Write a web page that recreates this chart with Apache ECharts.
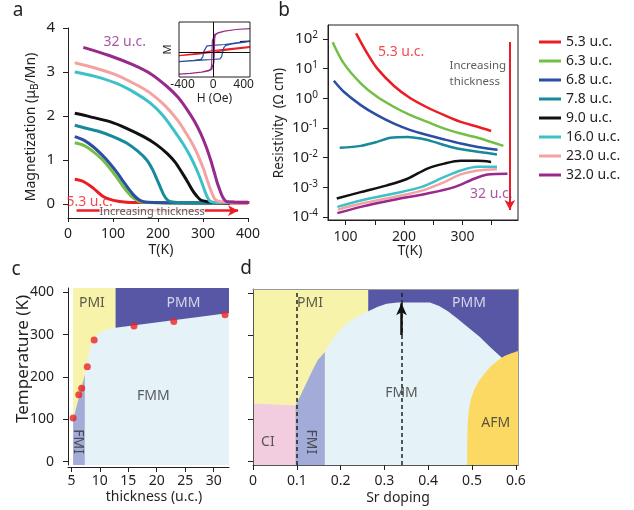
<!DOCTYPE html>
<html>
<head>
<meta charset="utf-8">
<script src="https://cdn.jsdelivr.net/npm/echarts@6/dist/echarts.min.js"></script>
<style>html,body{margin:0;padding:0;background:#fff}#main{width:634px;height:510px}</style>
</head>
<body>
<div id="main"></div>
<script>
var FONT = '"Noto Sans", "DejaVu Sans", sans-serif';
var INK = '#231f20';

// film thicknesses and their line colours
var thicknessNames = ['5.3 u.c.', '6.3 u.c.', '6.8 u.c.', '7.8 u.c.', '9.0 u.c.', '16.0 u.c.', '23.0 u.c.', '32.0 u.c.'];
var lineColors = ['#ec1c24', '#72bf44', '#2b4ea2', '#168a9a', '#111111', '#3cc1c8', '#f4a3a3', '#972a8a'];

// panel a : magnetization vs T  [T (K), M (muB/Mn)]
var mag53 = [[15,0.56],[34,0.51],[56,0.36],[78,0.17],[101,0.08],[130,0.04],[200,0.03],[300,0.02],[400,0.02]];
var mag63 = [[15,1.39],[35,1.33],[56,1.19],[75,1.02],[93,0.81],[110,0.58],[123,0.39],[135,0.24],[147,0.12],[160,0.05],[180,0.03],[250,0.02],[330,0.02]];
var mag68 = [[15,1.53],[35,1.45],[56,1.3],[75,1.12],[93,0.92],[110,0.7],[123,0.51],[135,0.34],[146,0.2],[157,0.1],[168,0.05],[190,0.03],[330,0.02]];
var mag78 = [[15,1.79],[40,1.72],[71,1.64],[100,1.53],[131,1.38],[155,1.2],[175,1.0],[188,0.78],[198,0.55],[206,0.36],[213,0.2],[220,0.1],[228,0.05],[250,0.03],[360,0.02]];
var mag90 = [[15,2.06],[50,1.98],[93,1.87],[130,1.72],[168,1.53],[195,1.36],[220,1.15],[238,0.95],[254,0.7],[266,0.5],[276,0.32],[286,0.18],[295,0.09],[310,0.05],[325,0.03],[360,0.02]];
var mag160 = [[15,3.0],[60,2.9],[108,2.74],[150,2.52],[183,2.29],[210,2.02],[235,1.68],[255,1.38],[272,1.08],[285,0.8],[295,0.55],[301,0.38],[306,0.24],[311,0.13],[317,0.05],[330,0.03],[400,0.03]];
var mag230 = [[15,3.21],[60,3.09],[108,2.93],[150,2.72],[183,2.52],[215,2.24],[243,1.91],[263,1.6],[280,1.3],[292,1.03],[302,0.77],[310,0.52],[317,0.32],[323,0.17],[328,0.09],[340,0.05],[400,0.05]];
var mag320 = [[34,3.56],[90,3.38],[145,3.16],[185,2.95],[220,2.67],[245,2.42],[265,2.14],[281,1.88],[295,1.6],[307,1.3],[317,1.0],[325,0.72],[332,0.47],[338,0.3],[343,0.17],[348,0.09],[354,0.05],[370,0.04],[403,0.03]];
var magCurves = [mag53, mag63, mag68, mag78, mag90, mag160, mag230, mag320];

// inset : hysteresis loops  [H (Oe), M (normalised)]
var loop32 = [[483,1.04],[300,1.0],[150,0.93],[60,0.85],[20,0.78],[0,0.72],[-10,0.5],[-15,0],[-20,-0.6],[-30,-0.74],[-60,-0.8],[-150,-0.87],[-300,-0.93],[-447,-0.96],[-300,-0.93],[-150,-0.88],[-60,-0.82],[-20,-0.76],[0,-0.7],[10,-0.45],[15,0],[20,0.6],[30,0.76],[60,0.84],[150,0.93],[300,1.0],[483,1.04]];
var loop68 = [[483,0.48],[300,0.41],[150,0.34],[0,0.3],[-80,0.28],[-105,0.2],[-120,0.05],[-135,-0.2],[-160,-0.31],[-250,-0.36],[-447,-0.41],[-250,-0.37],[-100,-0.34],[0,-0.32],[90,-0.29],[110,-0.2],[125,0],[140,0.2],[165,0.3],[250,0.37],[483,0.48]];
var loop53 = [[483,0.25],[200,0.15],[0,0.07],[-200,-0.05],[-447,-0.15],[-200,-0.09],[0,0.0],[200,0.1],[483,0.21]];
var loop90 = [[350,0.47],[483,0.49]];
var insetTicksX = [-400, 0, 400];

// panel b : resistivity vs T  [T (K), rho (Ohm cm)]
var rho53 = [[118,155],[137,33],[154,10.2],[183,2.6],[211,1.0],[240,0.49],[269,0.27],[297,0.16],[326,0.11],[349,0.079]];
var rho63 = [[78,78],[97,15],[126,3.2],[154,1.12],[183,0.51],[211,0.27],[240,0.16],[269,0.095],[297,0.065],[326,0.047],[370,0.025]];
var rho68 = [[80,3.9],[97,1.66],[126,0.59],[154,0.27],[183,0.14],[211,0.085],[240,0.058],[269,0.041],[297,0.030],[326,0.023],[360,0.0186]];
var rho78 = [[90,0.0214],[126,0.025],[154,0.034],[177,0.047],[206,0.050],[229,0.044],[251,0.034],[280,0.023],[309,0.0178],[359,0.0129]];
var rho90 = [[85,4.2e-4],[126,6.9e-4],[171,1.17e-3],[206,1.95e-3],[240,4.3e-3],[269,6.3e-3],[297,7.8e-3],[326,7.8e-3],[349,7.2e-3]];
var rho160 = [[86,2.2e-4],[126,3.6e-4],[183,6.2e-4],[229,1.02e-3],[269,2.24e-3],[297,3.7e-3],[326,4.9e-3],[359,4.9e-3]];
var rho230 = [[87,1.78e-4],[126,2.8e-4],[183,4.7e-4],[229,7.6e-4],[269,1.51e-3],[297,2.75e-3],[326,3.7e-3],[359,4.1e-3]];
var rho320 = [[86,1.35e-4],[126,2.2e-4],[183,3.8e-4],[240,6.2e-4],[286,1.02e-3],[320,1.95e-3],[343,2.7e-3],[377,2.9e-3]];
var rhoCurves = [rho53, rho63, rho68, rho78, rho90, rho160, rho230, rho320];

// tick values
var aTicksX = [0, 100, 200, 300, 400];
var aTicksY = [0, 1, 2, 3, 4];
var bTicksX = [100, 150, 200, 250, 300, 350];
var bLabelsX = [100, 200, 300];
var bDecades = [-4, -3, -2, -1, 0, 1, 2];
var cTicksX = [5, 10, 15, 20, 25, 30];
var tempTicks = [0, 100, 200, 300, 400];
var dTicksX = [0, 0.1, 0.2, 0.3, 0.4, 0.5, 0.6];

// panel c : Tc vs thickness, and phase boundaries [thickness, T]
var tcThickness = [5.3, 6.3, 6.8, 7.8, 9.0, 16, 23, 32];
var tcValues = [103, 158, 173, 224, 287, 320, 331, 347];
var cPmiTop = [[5.3,410],[12.76,410]];
var cPmmTop = [[12.76,410],[32.7,410]];
var cFmmTop = [[7.35,205],[7.6,226],[7.93,247],[8.2,263],[8.5,277],[8.9,289],[9.4,298],[9.9,303],[10.5,308],[11.5,313],[12.76,316],[32.7,351]];
var cFmiTop = [[5.3,99],[7.35,205]];

// panel d : phase diagram vs Sr doping [x, T]
var dPmiTop = [[0,409],[0.263,409]];
var dPmmTop = [[0.263,409],[0.605,409]];
var dCiTop = [[0,138],[0.097,133]];
var dFmiTop = [[0.097,133],[0.11,160],[0.122,186],[0.135,215],[0.148,241],[0.164,260]];
var dFmmTop = [[0.164,260],[0.172,275],[0.183,292],[0.197,310],[0.213,326],[0.235,342],[0.263,356],[0.285,367],[0.305,374],[0.33,377],[0.37,377],[0.404,377],[0.425,369],[0.445,356],[0.465,340],[0.49,319],[0.518,295],[0.543,270],[0.567,247],[0.605,212]];
var dAfmTop = [[0.489,-8],[0.489,40],[0.490,90],[0.493,125],[0.498,150],[0.505,170],[0.515,190],[0.528,208],[0.543,226],[0.56,241],[0.575,251],[0.59,257],[0.605,262]];
var dDashX = [0.097, 0.339];
var dArrow = [[0.339,300],[0.339,375]];

var dom = document.getElementById('main');
var myChart = echarts.init(dom);

function ax(grid, min, max, extra) {
    var base = {
        gridIndex: grid, type: 'value', min: min, max: max,
        axisLine: {onZero: false, lineStyle: {color: INK, width: 1}},
        axisTick: {length: 5, lineStyle: {color: INK}},
        axisLabel: {fontSize: 14, color: INK, fontFamily: FONT},
        splitLine: {show: false}
    };
    for (var k in extra) {
        if (typeof extra[k] === 'object' && !Array.isArray(extra[k]) && base[k]) {
            base[k] = Object.assign({}, base[k], extra[k]);
        } else {
            base[k] = extra[k];
        }
    }
    return base;
}

function area(gi, data, color) {
    return {type: 'line', xAxisIndex: gi, yAxisIndex: gi, data: data, smooth: false,
        symbol: 'none', silent: true, lineStyle: {width: 0, opacity: 0},
        areaStyle: {color: color, opacity: 1, origin: 'start'}, z: 1};
}

function notes(gi, items, size) {
    return {type: 'scatter', xAxisIndex: gi, yAxisIndex: gi, symbolSize: 1, silent: true,
        itemStyle: {color: 'rgba(0,0,0,0)'}, data: items, z: 20,
        label: {show: true, position: 'inside', formatter: '{b}', fontSize: size, fontFamily: FONT, color: '#333'}};
}

var series = [];
thicknessNames.forEach(function (n, i) {
    series.push({type: 'line', name: n, xAxisIndex: 0, yAxisIndex: 0, data: magCurves[i], smooth: 0.3,
        showSymbol: false, lineStyle: {width: 3, color: lineColors[i]}, itemStyle: {color: lineColors[i]}, z: 3});
});
series.push(notes(0, [
    {name: '32 u.c.', value: [126, 3.69], label: {color: '#972a8a'}},
    {name: '5.3 u.c.', value: [48, 0.05], label: {color: '#ec1c24'}},
    {name: 'Increasing thickness', value: [187, -0.19], label: {fontSize: 11, color: '#333', backgroundColor: '#fff', lineHeight: 11}}
], 14));
series[series.length - 1].markLine = {
    silent: true, symbol: ['none', 'arrow'], symbolSize: [8, 10], label: {show: false},
    lineStyle: {color: '#ec1c24', width: 2.5, type: 'solid'},
    data: [[{coord: [19, -0.154]}, {coord: [378, -0.154]}]]
};

// inset loops
var loopSets = [[loop53, '#ec1c24'], [loop90, '#111'], [loop68, '#2b4ea2'], [loop32, '#972a8a']];
loopSets.forEach(function (l, i) {
    series.push({type: 'line', name: 'loop' + i, xAxisIndex: 1, yAxisIndex: 1, data: l[0], symbol: 'none',
        lineStyle: {width: 1.2, color: l[1]}, z: 4,
        markLine: i === 0 ? {silent: true, symbol: 'none', label: {show: false},
            lineStyle: {color: '#111', width: 1, type: 'solid'}, data: [{yAxis: 0}, {xAxis: 0}]} : undefined});
});

// panel b
thicknessNames.forEach(function (n, i) {
    series.push({type: 'line', name: n, xAxisIndex: 2, yAxisIndex: 2, smooth: 0.3, showSymbol: false,
        data: rhoCurves[i].map(function (p) { return [p[0], Math.log10(p[1])]; }),
        lineStyle: {width: 2.5, color: lineColors[i]}, itemStyle: {color: lineColors[i]}, z: 3});
});
series.push(notes(2, [
    {name: '5.3 u.c.', value: [195, 1.57], label: {color: '#ec1c24'}},
    {name: 'Increasing\nthickness', value: [277, 0.83], label: {position: 'right', distance: 0, fontSize: 11.5, lineHeight: 16, color: '#333'}},
    {name: '32 u.c.', value: [312, -3.23], label: {position: 'right', distance: 0, color: '#972a8a'}}
], 14));
series[series.length - 1].markLine = {
    silent: true, symbol: ['none', 'arrow'], symbolSize: [8, 10], label: {show: false},
    lineStyle: {color: '#ec1c24', width: 2, type: 'solid'},
    data: [[{coord: [381, 1.90]}, {coord: [381, -3.76]}]]
};

// panel c
series.push(area(3, cPmiTop, '#f7f3ab'));
series.push(area(3, cPmmTop, '#5757a5'));
series.push(area(3, cFmmTop, '#e5f3f8'));
series.push(area(3, cFmiTop, '#a3acd8'));
series.push({type: 'scatter', xAxisIndex: 3, yAxisIndex: 3, symbolSize: 7, itemStyle: {color: '#ee2222'}, z: 5,
    data: tcThickness.map(function (t, i) { return [t, tcValues[i]]; })});
series.push(notes(3, [
    {name: 'PMI', value: [8.6, 375]},
    {name: 'PMM', value: [24.7, 375], label: {color: '#f2f2fa'}},
    {name: 'FMM', value: [19.4, 154]},
    {name: 'FMI', value: [6.2, 47], label: {rotate: -90}}
], 14));

// panel d
series.push(area(4, dPmiTop, '#f7f3ab'));
series.push(area(4, dPmmTop, '#5757a5'));
series.push(area(4, dCiTop, '#f2cde0'));
series.push(area(4, dFmmTop, '#e5f3f8'));
series.push(area(4, dFmiTop, '#a3acd8'));
series.push(area(4, dAfmTop, '#fbd962'));
series.push(notes(4, [
    {name: 'PMI', value: [0.13, 375]},
    {name: 'PMM', value: [0.493, 375], label: {color: '#f2f2fa'}},
    {name: 'FMM', value: [0.339, 162]},
    {name: 'AFM', value: [0.554, 92]},
    {name: 'CI', value: [0.034, 47]},
    {name: 'FMI', value: [0.132, 47], label: {rotate: -90}}
], 14));
series[series.length - 1].markLine = {
    silent: true, symbol: 'none', label: {show: false},
    lineStyle: {color: '#222', width: 1.5, type: [4, 3]},
    data: dDashX.map(function (x) { return {xAxis: x}; })
        .concat([[{coord: dArrow[0], symbol: 'none', lineStyle: {type: 'solid', width: 2.5, color: '#111'}},
                  {coord: dArrow[1], symbol: 'arrow', symbolSize: [8, 12]}]])
};

function decadeLabel(v) {
    return Math.abs(v - Math.round(v)) < 1e-6 ? '{b|10}{s|' + Math.round(v) + '}' : '';
}

var option = {
    animation: false,
    textStyle: {fontFamily: FONT},
    grid: [
        {left: 68, top: 28, width: 180, height: 190},
        {left: 179, top: 22, width: 71, height: 55, show: true, borderColor: INK, borderWidth: 1, z: 5},
        {left: 328, top: 25, width: 190, height: 195, show: true, borderColor: INK, borderWidth: 1},
        {left: 68, top: 288, width: 161, height: 177},
        {left: 253, top: 289, width: 265, height: 176}
    ],
    xAxis: [
        ax(0, 0, 400, {axisTick: {length: 4, customValues: aTicksX}, axisLabel: {customValues: aTicksX, margin: 9}}),
        ax(1, -447, 483, {axisLine: {show: false}, axisTick: {show: false},
            axisLabel: {customValues: insetTicksX, margin: 2, fontSize: 12},
            name: 'H (Oe)', nameLocation: 'middle', nameGap: 16, nameTextStyle: {fontSize: 12, color: INK, fontFamily: FONT}}),
        ax(2, 70, 395, {axisTick: {customValues: bTicksX}, axisLabel: {customValues: bLabelsX, margin: 10}}),
        ax(3, 4.4, 32.7, {offset: 2, z: 10, axisTick: {customValues: cTicksX}, axisLabel: {customValues: cTicksX, margin: 7}}),
        ax(4, 0, 0.605, {z: 10, axisLine: {lineStyle: {color: '#555'}}, axisTick: {customValues: dTicksX}, axisLabel: {customValues: dTicksX, margin: 9}}),
        ax(4, 0, 0.605, {position: 'top', z: 10, axisLine: {lineStyle: {color: '#999'}}, axisTick: {show: false}, axisLabel: {show: false}})
    ],
    yAxis: [
        ax(0, -0.32, 4, {axisTick: {customValues: aTicksY}, axisLabel: {customValues: aTicksY, margin: 13, fontSize: 15}}),
        ax(1, -1.09, 1.33, {axisLine: {show: false}, axisTick: {show: false}, axisLabel: {show: false},
            name: 'M', nameLocation: 'middle', nameGap: 6, nameRotate: 90, nameTextStyle: {fontSize: 11, color: INK, fontFamily: FONT}}),
        ax(2, -4.1, 2.47, {axisTick: {customValues: bDecades}, axisLabel: {customValues: bDecades, margin: 10, formatter: decadeLabel,
            rich: {b: {fontSize: 15, lineHeight: 17, color: INK, fontFamily: FONT}, s: {fontSize: 10, lineHeight: 10, verticalAlign: 'top', color: INK, fontFamily: FONT}}}}),
        ax(3, -8, 410, {z: 10, axisTick: {customValues: tempTicks}, axisLabel: {customValues: tempTicks, margin: 14}}),
        ax(4, -8, 409, {z: 10, axisLine: {lineStyle: {color: '#555'}}, axisTick: {customValues: tempTicks}, axisLabel: {show: false}}),
        ax(4, -8, 409, {position: 'right', z: 10, axisLine: {lineStyle: {color: '#999'}}, axisTick: {show: false}, axisLabel: {show: false}})
    ],
    legend: {
        data: thicknessNames, orient: 'vertical', left: 539, top: 34, padding: 0,
        itemWidth: 22, itemHeight: 3, itemGap: 3, icon: 'rect', selectedMode: false,
        textStyle: {fontSize: 14, lineHeight: 16, color: INK, fontFamily: FONT}
    },
    graphic: [
        {type: 'text', x: 18, y: 11, style: {text: 'a', fontSize: 19, fontFamily: FONT, fill: INK, align: 'center', verticalAlign: 'middle'}},
        {type: 'text', x: 284, y: 11, style: {text: 'b', fontSize: 19, fontFamily: FONT, fill: INK, align: 'center', verticalAlign: 'middle'}},
        {type: 'text', x: 16, y: 270, style: {text: 'c', fontSize: 19, fontFamily: FONT, fill: INK, align: 'center', verticalAlign: 'middle'}},
        {type: 'text', x: 246, y: 269, style: {text: 'd', fontSize: 19, fontFamily: FONT, fill: INK, align: 'center', verticalAlign: 'middle'}},
        {type: 'text', x: 31, y: 127, rotation: Math.PI / 2, style: {text: '{t|Magnetization (μ}{s|B}{t|/Mn)}', align: 'center', verticalAlign: 'middle',
            rich: {t: {fontSize: 14, lineHeight: 18, fontFamily: FONT, fill: INK}, s: {fontSize: 10, lineHeight: 10, verticalAlign: 'bottom', fontFamily: FONT, fill: INK}}}},
        {type: 'text', x: 279, y: 123, rotation: Math.PI / 2, style: {text: 'Resistivity  (Ω cm)', fontSize: 13.5, fontFamily: FONT, fill: INK, align: 'center', verticalAlign: 'middle'}},
        {type: 'text', x: 23, y: 359, rotation: Math.PI / 2, style: {text: 'Temperature (K)', fontSize: 17, fontFamily: FONT, fill: INK, align: 'center', verticalAlign: 'middle'}},
        {type: 'text', x: 161, y: 250, style: {text: 'T(K)', fontSize: 14, fontFamily: FONT, fill: INK, align: 'center', verticalAlign: 'middle'}},
        {type: 'text', x: 410, y: 251, style: {text: 'T(K)', fontSize: 14, fontFamily: FONT, fill: INK, align: 'center', verticalAlign: 'middle'}},
        {type: 'text', x: 154, y: 497, style: {text: 'thickness (u.c.)', fontSize: 14, fontFamily: FONT, fill: INK, align: 'center', verticalAlign: 'middle'}},
        {type: 'text', x: 398, y: 498, style: {text: 'Sr doping', fontSize: 14, fontFamily: FONT, fill: INK, align: 'center', verticalAlign: 'middle'}}
    ],
    series: series
};

if (option && typeof option === 'object') {
    myChart.setOption(option, true);
}
window.addEventListener('resize', function () { myChart.resize(); });
</script>
</body>
</html>
